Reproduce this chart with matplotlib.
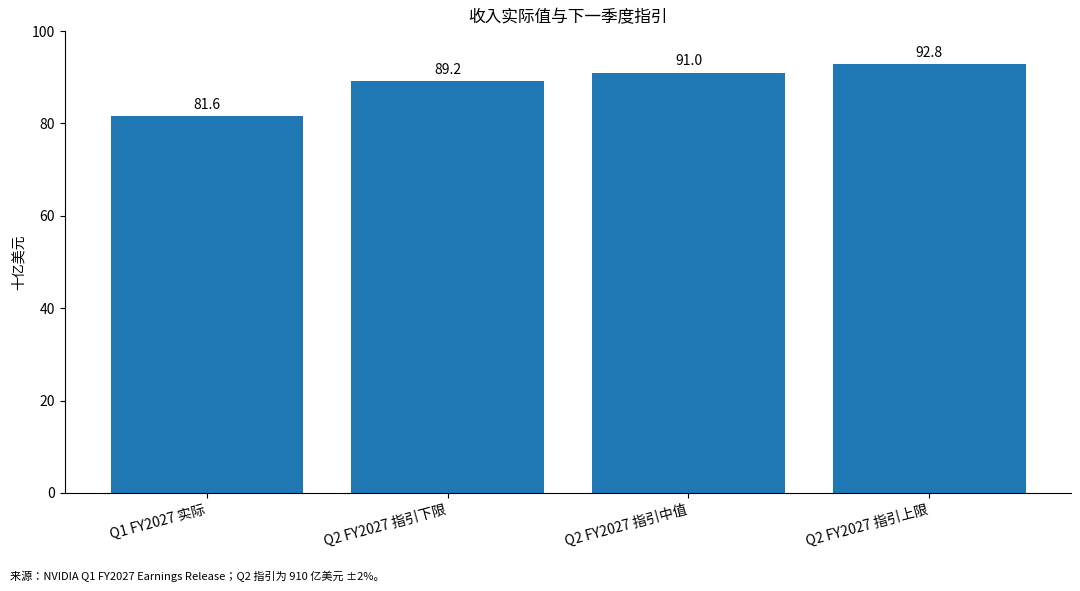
import matplotlib.pyplot as plt
import numpy as np

plt.rcParams['font.family'] = ['Noto Sans CJK JP', 'DejaVu Sans']

# Data
categories = ['Q1 FY2027 实际', 'Q2 FY2027 指引下限', 'Q2 FY2027 指引中值', 'Q2 FY2027 指引上限']
revenue = [81.6, 89.2, 91.0, 92.8]

fig = plt.figure(figsize=(10.8, 5.91), dpi=100)
ax = fig.add_axes([0.060, 0.166, 0.932, 0.7815])

x = np.arange(len(categories))
bars = ax.bar(x, revenue, width=0.8, color='#1f77b4')
ax.bar_label(bars, labels=[f'{v:.1f}' for v in revenue], padding=3, fontsize=10)

ax.set_ylim(0, 100)
ax.set_xticks(x)
ax.set_xticklabels(categories, rotation=15, ha='right', fontsize=10)
ax.tick_params(axis='y', labelsize=10)
ax.set_ylabel('十亿美元', fontsize=10)
ax.set_title('收入实际值与下一季度指引', fontsize=12, pad=6)
ax.spines['top'].set_visible(False)
ax.spines['right'].set_visible(False)

fig.text(0.009, 0.018, '来源：NVIDIA Q1 FY2027 Earnings Release；Q2 指引为 910 亿美元 ±2%。', fontsize=8)

plt.savefig('out.png', dpi=100)
